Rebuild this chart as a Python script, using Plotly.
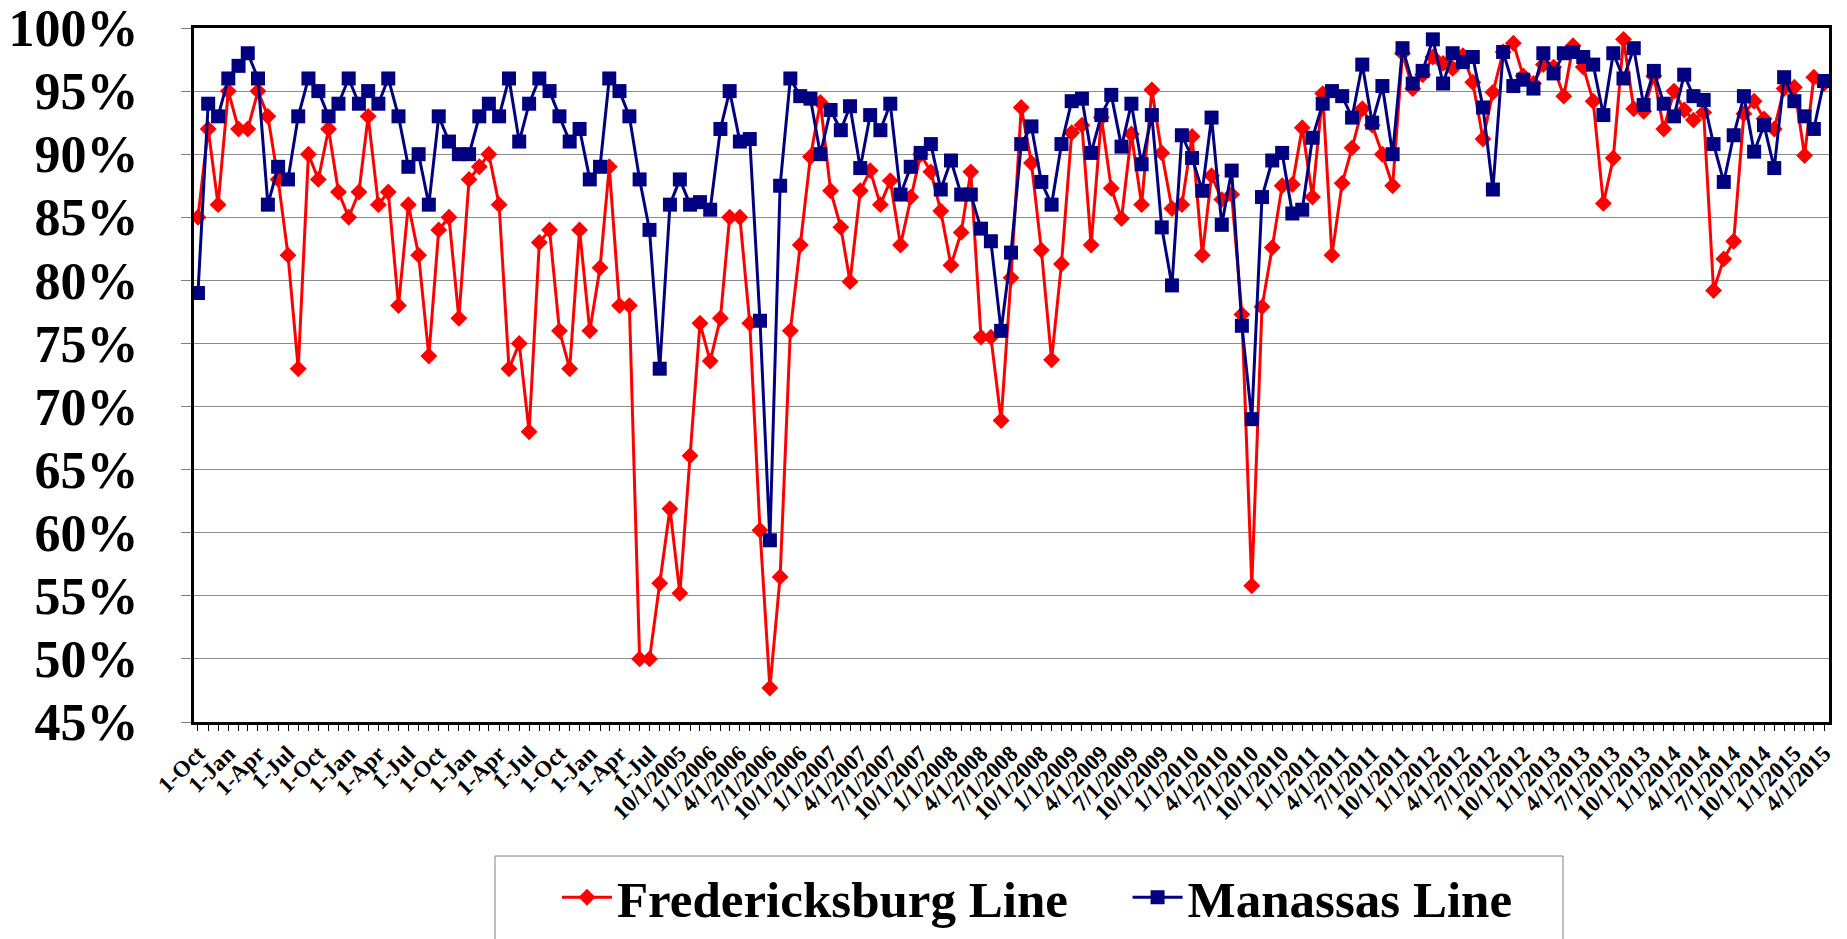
import plotly.graph_objects as go
import pandas as pd

# ---------------- data ----------------
first_month = "2001-10-01"
n_months = 163  # Oct 2001 .. Apr 2015, monthly
months = pd.date_range(first_month, periods=n_months, freq="MS").strftime("%Y-%m-%d").tolist()

fredericksburg = [
    85, 92, 86, 95, 92, 92, 95, 93, 88, 82, 73, 90, 88, 92, 87, 85, 87, 93, 86, 87,
    78, 86, 82, 74, 84, 85, 77, 88, 89, 90, 86, 73, 75, 68, 83, 84, 76, 73, 84, 76,
    81, 89, 78, 78, 50, 50, 56, 61.9, 55.2, 66.1, 76.6, 73.6, 77, 85, 85, 76.6, 60.2, 47.7, 56.5, 76,
    82.8, 89.8, 94.1, 87.1, 84.2, 79.9, 87.1, 88.7, 86, 87.9, 82.8, 86.6, 90, 88.6, 85.5, 81.2, 83.8, 88.6, 75.5, 75.5,
    68.9, 80.2, 93.7, 89.3, 82.4, 73.7, 81.3, 91.7, 92.3, 82.8, 92.9, 87.3, 84.9, 91.6, 86, 95.1, 90.1, 85.7, 86, 91.4,
    82, 88.3, 86.4, 86.8, 77.3, 55.8, 77.9, 82.6, 87.5, 87.6, 92.1, 86.6, 94.8, 82, 87.7, 90.5, 93.6, 92.3, 90, 87.5,
    98, 95.2, 96.3, 97.7, 97.2, 96.8, 97.8, 95.7, 91.2, 94.9, 98.1, 98.8, 96.2, 95.6, 97.1, 96.9, 94.6, 98.6, 96.9, 94.2,
    86.1, 89.7, 99.1, 93.6, 93.4, 96.2, 92.0, 95.0, 93.5, 92.7, 93.3, 79.2, 81.7, 83.1, 93.2, 94.2, 92.8, 92.0, 95.2, 95.3,
    89.9, 96.1, 95.6,
]

manassas = [
    79, 94, 93, 96, 97, 98, 96, 86, 89, 88, 93, 96, 95, 93, 94, 96, 94, 95, 94, 96,
    93, 89, 90, 86, 93, 91, 90, 90, 93, 94, 93, 96, 91, 94, 96, 95, 93, 91, 92, 88,
    89, 96, 95, 93, 88, 84, 73, 86, 88, 86, 86.2, 85.6, 92, 95, 91, 91.2, 76.8, 59.4, 87.5, 96,
    94.6, 94.4, 90, 93.5, 91.9, 93.8, 88.9, 93.1, 91.9, 94, 86.8, 89, 90.1, 90.8, 87.2, 89.5, 86.8, 86.8, 84.1, 83.1,
    76, 82.2, 90.8, 92.2, 87.8, 86, 90.8, 94.2, 94.4, 90.1, 93.1, 94.7, 90.6, 94, 89.2, 93.1, 84.2, 79.6, 91.5, 89.7,
    87.1, 92.9, 84.4, 88.7, 76.4, 69, 86.6, 89.5, 90.1, 85.3, 85.6, 91.3, 94, 95, 94.6, 92.9, 97.1, 92.5, 95.4, 90,
    98.4, 95.6, 96.6, 99.1, 95.6, 98, 97.3, 97.7, 93.7, 87.2, 98.1, 95.4, 95.9, 95.2, 98, 96.4, 98, 98.1, 97.7, 97.1,
    93.1, 98, 96, 98.4, 93.9, 96.6, 94, 93, 96.3, 94.6, 94.3, 90.8, 87.8, 91.5, 94.6, 90.2, 92.3, 88.9, 96.1, 94.2,
    93, 92, 95.8,
]

tick_labels = [
    "1-Oct", "1-Jan", "1-Apr", "1-Jul",
    "1-Oct", "1-Jan", "1-Apr", "1-Jul",
    "1-Oct", "1-Jan", "1-Apr", "1-Jul",
    "1-Oct", "1-Jan", "1-Apr", "1-Jul",
    "10/1/2005",
    "1/1/2006", "4/1/2006", "7/1/2006", "10/1/2006",
    "1/1/2007", "4/1/2007", "7/1/2007", "10/1/2007",
    "1/1/2008", "4/1/2008", "7/1/2008", "10/1/2008",
    "1/1/2009", "4/1/2009", "7/1/2009", "10/1/2009",
    "1/1/2010", "4/1/2010", "7/1/2010", "10/1/2010",
    "1/1/2011", "4/1/2011", "7/1/2011", "10/1/2011",
    "1/1/2012", "4/1/2012", "7/1/2012", "10/1/2012",
    "1/1/2013", "4/1/2013", "7/1/2013", "10/1/2013",
    "1/1/2014", "4/1/2014", "7/1/2014", "10/1/2014",
    "1/1/2015", "4/1/2015",
]
tick_months = months[::3]

y_ticks = [45, 50, 55, 60, 65, 70, 75, 80, 85, 90, 95, 100]
y_tick_labels = ["45%", "50%", "55%", "60%", "65%", "70%", "75%", "80%", "85%", "90%", "95%", "100%"]

# ---------------- figure ----------------
FONT = "Liberation Serif, Times New Roman, serif"

fig = go.Figure()
fig.add_trace(go.Scatter(
    x=months, y=fredericksburg, mode="lines+markers", name="Fredericksburg Line",
    line=dict(color="#FF0000", width=3),
    marker=dict(symbol="diamond", size=13, color="#FF0000"),
    legend="legend",
))
fig.add_trace(go.Scatter(
    x=months, y=manassas, mode="lines+markers", name="Manassas Line",
    line=dict(color="#000080", width=3),
    marker=dict(symbol="square", size=14, color="#000080"),
    legend="legend2",
))

legend_font = dict(family=FONT, size=51, color="black", weight="bold")

fig.update_layout(
    width=1847, height=939,
    margin=dict(l=194, r=18, t=28, b=217, autoexpand=False),
    paper_bgcolor="white", plot_bgcolor="white",
    showlegend=True,
    xaxis=dict(
        type="date",
        range=["2001-09-19", "2015-04-16"],
        tickmode="array", tickvals=tick_months, ticktext=tick_labels,
        tickangle=-45,
        tickfont=dict(family=FONT, size=23, color="black", weight="bold"),
        ticks="outside", ticklen=6, tickwidth=1, tickcolor="black",
        showline=True, linecolor="black", linewidth=3, mirror=True,
        showgrid=False, zeroline=False, automargin=False,
        minor=dict(ticks="outside", dtick="M1", tick0=first_month, ticklen=6,
                   tickwidth=1, tickcolor="black", showgrid=False),
    ),
    yaxis=dict(
        range=[45, 100],
        tickmode="array", tickvals=y_ticks, ticktext=y_tick_labels,
        tickfont=dict(family=FONT, size=52, color="black", weight="bold"),
        ticks="outside", ticklen=10, tickwidth=1, tickcolor="#808080",
        ticklabelstandoff=32,
        showline=True, linecolor="black", linewidth=3, mirror=True,
        showgrid=True, gridcolor="#8c8c8c", gridwidth=1, zeroline=False,
        automargin=False,
    ),
    legend=dict(
        x=0.222, y=-0.253, xanchor="left", yanchor="middle",
        orientation="h", font=legend_font, bgcolor="rgba(0,0,0,0)", borderwidth=0,
        itemwidth=50,
    ),
    legend2=dict(
        x=0.571, y=-0.253, xanchor="left", yanchor="middle",
        orientation="h", font=legend_font, bgcolor="rgba(0,0,0,0)", borderwidth=0,
        itemwidth=50,
    ),
    shapes=[dict(
        type="rect", xref="paper", yref="paper",
        x0=0.1841, x1=0.8373, y0=-0.36, y1=-0.1931,
        line=dict(color="#808080", width=1), fillcolor="rgba(0,0,0,0)", layer="below",
    )],
)

fig.write_html(
    "out.html",
    config={"displayModeBar": False},
    post_script="document.body.style.margin='0';document.body.style.overflow='hidden';",
)
